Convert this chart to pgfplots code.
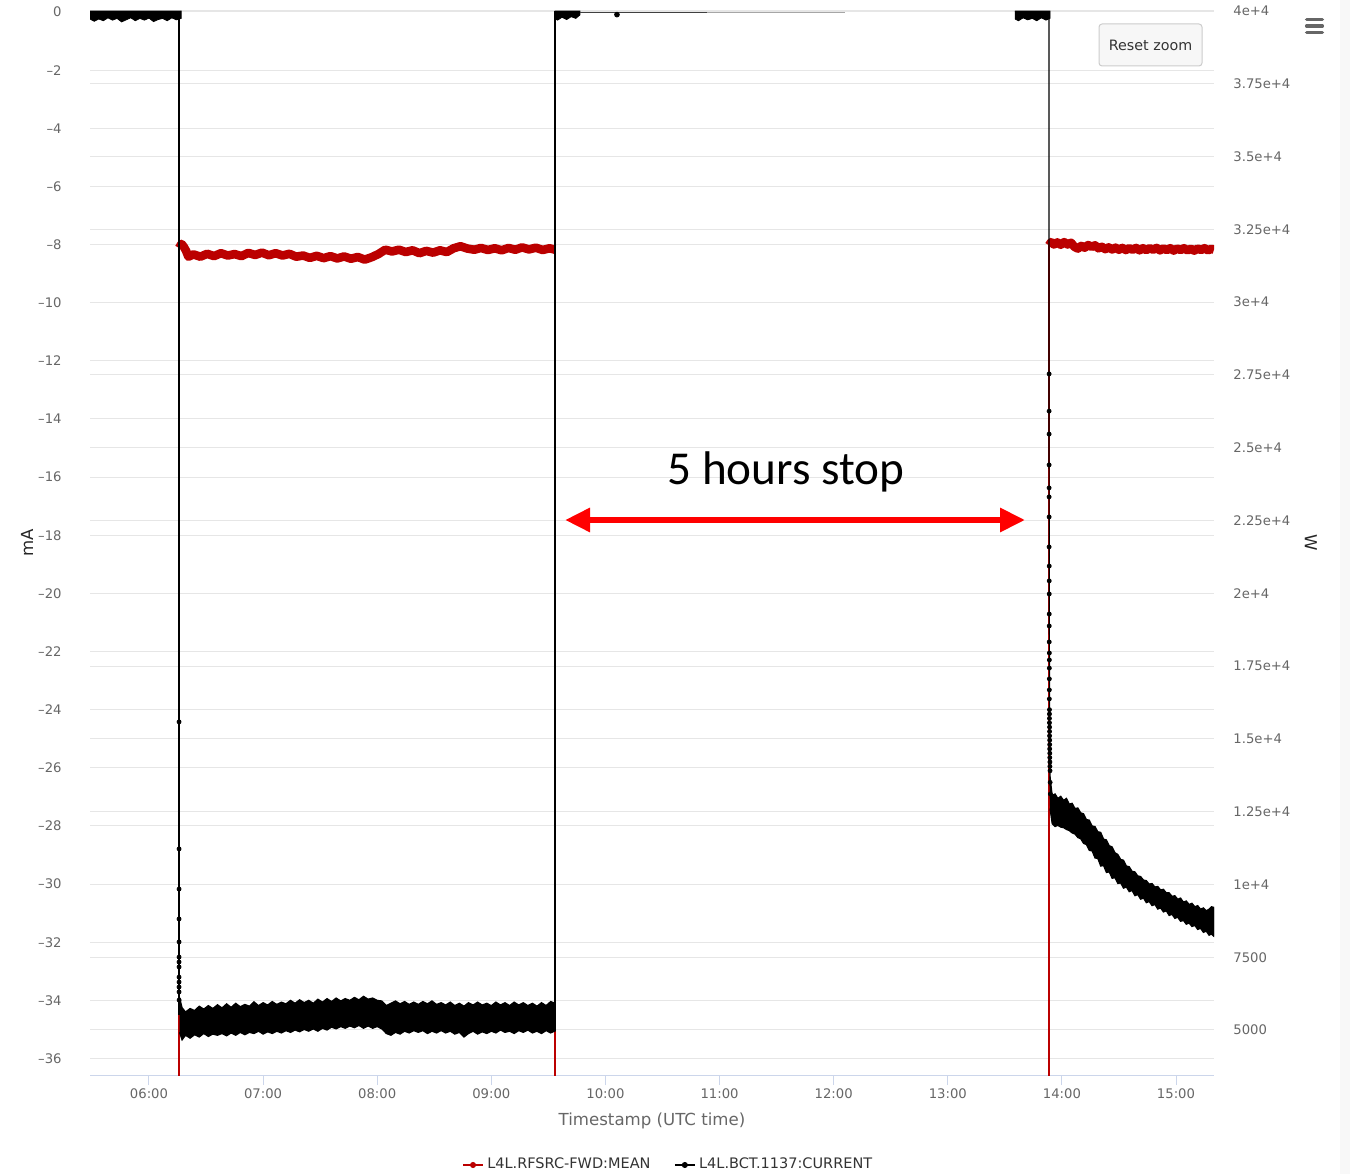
\documentclass[border=0pt]{standalone}
\usepackage{fontspec}
\setmainfont{DejaVu Sans}
\newfontfamily\carlito{Carlito}
\usepackage{pgfplots}
\pgfplotsset{compat=1.18}
\usetikzlibrary{arrows.meta}
\definecolor{gridc}{HTML}{E6E6E6}
\definecolor{axc}{HTML}{CCD6EB}
\definecolor{lab}{HTML}{666666}
\definecolor{txt}{HTML}{333333}
\definecolor{redser}{HTML}{BB0000}
\definecolor{arrowred}{HTML}{FF0000}
\definecolor{btnfill}{HTML}{F7F7F7}
\definecolor{btndraw}{HTML}{CCCCCC}
\definecolor{strip}{HTML}{F8F8F8}
\pgfplotsset{
  base/.style={
    scale only axis, width=562pt, height=532.5pt,
    at={(45pt,49.5pt)}, anchor=south west,
    xmin=5.483, xmax=15.333,
  },
  leftax/.style={ymin=-36.567, ymax=0.0688},
  rightax/.style={ymin=3454, ymax=40034},
}
\begin{document}
\begin{tikzpicture}
\useasboundingbox (0,0) rectangle (675pt,587pt);
\fill[strip] (670pt,0) rectangle (675pt,587pt);

% ---------- axis 1: left mA axis, grid, x axis ----------
\begin{axis}[base, leftax, clip=false,
  axis line style={draw=none},
  ytick={0,-2,-4,-6,-8,-10,-12,-14,-16,-18,-20,-22,-24,-26,-28,-30,-32,-34,-36},
  yticklabels={0,–2,–4,–6,–8,–10,–12,–14,–16,–18,–20,–22,–24,–26,–28,–30,–32,–34,–36},
  xtick={6,7,8,9,10,11,12,13,14,15},
  xticklabels={06:00,07:00,08:00,09:00,10:00,11:00,12:00,13:00,14:00,15:00},
  xtick pos=bottom,
  tick align=outside,
  major tick length=5pt,
  xtick style={draw=axc, line width=0.5pt},
  ytick style={draw=none},
  ymajorgrids, grid style={gridc, line width=0.5pt},
  yticklabel style={anchor=east, inner sep=0pt, xshift=-9pt, font=\fontsize{6.6}{7}\selectfont, text=lab},
  xticklabel style={anchor=base, inner sep=0pt, yshift=-6.5pt, font=\fontsize{6.6}{7}\selectfont, text=lab},
  ylabel={mA},
  every axis y label/.style={at={(axis description cs:-0.05605,0.4995)}, rotate=90, anchor=center, font=\fontsize{8.3}{9}\selectfont, text=black!85},
  xlabel={Timestamp (UTC time)},
  every axis x label/.style={at={(axis description cs:0.5,-0.0432)}, anchor=center, font=\fontsize{8.3}{9}\selectfont, text=lab},
]
\draw[axc, line width=0.5pt] (rel axis cs:0,0) -- (rel axis cs:1,0);
\end{axis}

% ---------- axis 2: right W axis, grid, red series ----------
\begin{axis}[base, rightax,
  axis line style={draw=none},
  xtick=\empty,
  ytick={5000,7500,10000,12500,15000,17500,20000,22500,25000,27500,30000,32500,35000,37500,40000},
  yticklabels={5000,7500,1e+4,1.25e+4,1.5e+4,1.75e+4,2e+4,2.25e+4,2.5e+4,2.75e+4,3e+4,3.25e+4,3.5e+4,3.75e+4,4e+4},
  yticklabel pos=right,
  scaled y ticks=false,
  ytick style={draw=none},
  ymajorgrids, grid style={gridc, line width=0.5pt},
  yticklabel style={anchor=west, inner sep=0pt, xshift=9.5pt, font=\fontsize{6.6}{7}\selectfont, text=lab},
  ylabel={W},
  every axis y label/.style={at={(axis description cs:1.0863,0.4995)}, rotate=-90, anchor=center, font=\fontsize{8.3}{9}\selectfont, text=black!85},
]
% thin series line (RF forward power, W): off levels and switching edges
\addplot[redser, line width=0.65pt, forget plot] coordinates {
(5.483,0) (6.2629,0) (6.2629,31859)};
\addplot[redser, line width=0.65pt, forget plot] coordinates {
(9.558,31800) (9.558,0) (13.887,0) (13.887,31950)};
% noisy "on" band, first run
\addplot[redser, line width=4.3pt, line join=round, forget plot] coordinates {
(6.263,31859) (6.285,32000) (6.305,31900) (6.325,31760) (6.345,31560) (6.39,31640) (6.45,31560) (6.51,31660)
(6.57,31580) (6.63,31680) (6.69,31600) (6.75,31650) (6.81,31580) (6.87,31690) (6.93,31620) (6.99,31700)
(7.05,31610) (7.11,31680) (7.17,31600) (7.23,31660) (7.29,31560) (7.35,31600) (7.41,31520) (7.47,31590)
(7.53,31510) (7.59,31580) (7.65,31500) (7.71,31570) (7.77,31490) (7.83,31550) (7.89,31460) (7.95,31540)
(8.01,31650) (8.07,31800) (8.13,31740) (8.19,31800) (8.25,31720) (8.31,31780) (8.37,31680) (8.43,31760)
(8.49,31700) (8.55,31780) (8.61,31720) (8.67,31850) (8.73,31920) (8.79,31840) (8.85,31800) (8.91,31860)
(8.97,31790) (9.03,31850) (9.09,31780) (9.15,31860) (9.21,31800) (9.27,31880) (9.33,31810) (9.39,31870)
(9.45,31790) (9.51,31850) (9.558,31800)};
% noisy "on" band, second run
\addplot[redser, line width=4.3pt, line join=round, forget plot] coordinates {
(13.887,31950) (13.905,32060) (13.93,31980) (13.96,32050) (13.99,31970) (14.02,32060) (14.05,31980) (14.08,32040)
(14.11,31900) (14.14,31840) (14.17,31930) (14.20,31870) (14.23,31960) (14.26,31900) (14.29,31950) (14.32,31850)
(14.35,31900) (14.38,31820) (14.41,31880) (14.44,31810) (14.47,31870) (14.50,31800) (14.53,31860) (14.56,31790)
(14.59,31850) (14.62,31800) (14.65,31860) (14.68,31780) (14.71,31850) (14.74,31790) (14.77,31850) (14.80,31800)
(14.83,31860) (14.86,31780) (14.89,31840) (14.92,31790) (14.95,31850) (14.98,31770) (15.01,31840) (15.04,31790)
(15.07,31850) (15.10,31780) (15.13,31830) (15.16,31770) (15.19,31840) (15.22,31790) (15.25,31850) (15.28,31780)
(15.31,31830) (15.333,31800)};
\end{axis}

% ---------- axis 3: left mA axis, black series, legend, annotation ----------
\begin{axis}[base, leftax, hide axis,
  legend style={at={(axis description cs:0.5151,-0.0845)}, anchor=center, draw=none, fill=none,
    inner sep=0pt, legend columns=2, font=\fontsize{7.25}{8}\selectfont, text=txt,
    /tikz/every even column/.append style={column sep=10pt},
    nodes={inner sep=1.75pt}},
  legend cell align=left,
  legend image code/.code={\draw[#1, line width=0.8pt] (0pt,0pt) -- (10pt,0pt); \fill[#1] (5pt,0pt) circle (1.3pt);},
]
\addlegendimage{redser}
\addlegendentry{L4L.RFSRC-FWD:MEAN}
\addlegendimage{black}
\addlegendentry{L4L.BCT.1137:CURRENT}

% beam off, before first run
\addplot[fill=black, draw=black, line width=0.4pt, forget plot] coordinates {
(5.483,0.03) (6.282,0.03) (6.282,-0.22) (6.24,-0.27) (6.20,-0.20) (6.16,-0.30) (6.12,-0.22) (6.08,-0.26)
(6.04,-0.33) (6.00,-0.21) (5.96,-0.28) (5.92,-0.22) (5.88,-0.30) (5.84,-0.20) (5.80,-0.27) (5.76,-0.34)
(5.72,-0.22) (5.68,-0.28) (5.64,-0.20) (5.60,-0.30) (5.56,-0.24) (5.52,-0.32) (5.483,-0.24)};
% transitions
\addplot[black, line width=0.6pt, forget plot] coordinates {(6.2629,0.03) (6.2629,-34.5)};
\addplot[black, line width=0.6pt, forget plot] coordinates {(9.558,-34.6) (9.558,0.03)};
\addplot[black, line width=0.6pt, forget plot] coordinates {(13.887,0.03) (13.887,-12.45) (13.889,-20) (13.892,-24) (13.896,-26.5) (13.9,-27.3)};
% points on the first fall
\addplot[black, only marks, mark=*, mark size=1pt, forget plot] coordinates {
(6.2635,-24.42) (6.2635,-28.79) (6.2635,-30.17) (6.2635,-31.20) (6.2635,-31.99) (6.2635,-32.51) (6.2635,-32.68)
(6.2635,-32.85) (6.2635,-33.20) (6.2635,-33.37) (6.2635,-33.54) (6.2635,-33.71) (6.264,-33.99)};
% points on the third fall
\addplot[black, only marks, mark=*, mark size=1pt, forget plot] coordinates {
(13.888,-12.45) (13.888,-13.73) (13.888,-14.52) (13.888,-15.58) (13.888,-16.37) (13.888,-16.68) (13.888,-17.37)
(13.888,-18.40) (13.889,-19.06) (13.889,-19.57) (13.889,-20.02) (13.889,-20.71) (13.889,-21.12) (13.889,-21.67)
(13.89,-22.05) (13.89,-22.29) (13.89,-22.57) (13.89,-22.94) (13.89,-23.32) (13.89,-23.63) (13.891,-24.0)
(13.891,-24.15) (13.891,-24.3) (13.891,-24.45) (13.892,-24.6) (13.892,-24.75) (13.892,-24.9) (13.893,-25.05)
(13.893,-25.2) (13.893,-25.35) (13.894,-25.5) (13.894,-25.65) (13.895,-25.8) (13.895,-25.95) (13.896,-26.1)
(13.897,-26.5) (13.899,-26.9)};
% first run, beam current band
\addplot[fill=black, draw=black, line width=0.6pt, forget plot] coordinates {
(6.268,-33.9) (6.290,-34.25) (6.32,-34.40) (6.36,-34.28) (6.40,-34.35) (6.44,-34.20) (6.48,-34.30) (6.52,-34.18)
(6.56,-34.28) (6.60,-34.15) (6.64,-34.26) (6.68,-34.12) (6.72,-34.24) (6.76,-34.10) (6.80,-34.22) (6.84,-34.14)
(6.88,-34.20) (6.92,-34.05) (6.96,-34.18) (7.00,-34.08) (7.04,-34.16) (7.08,-34.04) (7.12,-34.14) (7.16,-34.06)
(7.20,-34.12) (7.24,-34.00) (7.28,-34.10) (7.32,-33.98) (7.36,-34.08) (7.40,-34.00) (7.44,-34.10) (7.48,-33.96)
(7.52,-34.06) (7.56,-33.94) (7.60,-34.04) (7.64,-33.92) (7.68,-34.02) (7.72,-33.94) (7.76,-34.00) (7.80,-33.90)
(7.84,-33.98) (7.88,-33.86) (7.92,-33.96) (7.96,-33.92) (8.00,-34.00) (8.04,-34.02) (8.08,-34.18) (8.12,-34.10)
(8.16,-34.02) (8.20,-34.12) (8.24,-34.04) (8.28,-34.14) (8.32,-34.06) (8.36,-34.14) (8.40,-34.04) (8.44,-34.12)
(8.48,-34.02) (8.52,-34.14) (8.56,-34.08) (8.60,-34.16) (8.64,-34.06) (8.68,-34.18) (8.72,-34.10) (8.76,-34.20)
(8.80,-34.08) (8.84,-34.16) (8.88,-34.06) (8.92,-34.16) (8.96,-34.10) (9.00,-34.18) (9.04,-34.06) (9.08,-34.16)
(9.12,-34.08) (9.16,-34.18) (9.20,-34.06) (9.24,-34.16) (9.28,-34.08) (9.32,-34.18) (9.36,-34.10) (9.40,-34.20)
(9.44,-34.08) (9.48,-34.18) (9.52,-34.04) (9.56,-34.10)
(9.56,-35.05) (9.52,-35.12) (9.48,-35.04) (9.44,-35.14) (9.40,-35.06) (9.36,-35.12) (9.32,-35.02) (9.28,-35.10)
(9.24,-35.04) (9.20,-35.14) (9.16,-35.06) (9.12,-35.10) (9.08,-35.02) (9.04,-35.12) (9.00,-35.06) (8.96,-35.14)
(8.92,-35.08) (8.88,-35.16) (8.84,-35.06) (8.80,-35.14) (8.76,-35.26) (8.72,-35.10) (8.68,-35.16) (8.64,-35.06)
(8.60,-35.12) (8.56,-35.04) (8.52,-35.12) (8.48,-35.06) (8.44,-35.14) (8.40,-35.04) (8.36,-35.10) (8.32,-35.04)
(8.28,-35.12) (8.24,-35.06) (8.20,-35.16) (8.16,-35.10) (8.12,-35.20) (8.08,-35.14) (8.04,-34.98) (8.00,-34.90)
(7.96,-34.96) (7.92,-34.88) (7.88,-34.96) (7.84,-34.86) (7.80,-34.94) (7.76,-34.88) (7.72,-34.96) (7.68,-34.90)
(7.64,-34.98) (7.60,-34.92) (7.56,-35.02) (7.52,-34.96) (7.48,-35.06) (7.44,-34.98) (7.40,-35.06) (7.36,-35.00)
(7.32,-35.08) (7.28,-35.02) (7.24,-35.10) (7.20,-35.04) (7.16,-35.12) (7.12,-35.06) (7.08,-35.14) (7.04,-35.08)
(7.00,-35.16) (6.96,-35.06) (6.92,-35.14) (6.88,-35.10) (6.84,-35.18) (6.80,-35.10) (6.76,-35.20) (6.72,-35.12)
(6.68,-35.22) (6.64,-35.14) (6.60,-35.20) (6.56,-35.16) (6.52,-35.24) (6.48,-35.14) (6.44,-35.26) (6.40,-35.18)
(6.36,-35.30) (6.32,-35.20) (6.29,-35.36) (6.268,-35.10)};
% beam off, long stop
\addplot[fill=black, draw=black, line width=0.4pt, forget plot] coordinates {
(9.555,0.03) (9.777,0.03) (9.777,-0.10) (9.74,-0.22) (9.70,-0.16) (9.66,-0.26) (9.62,-0.18) (9.58,-0.28) (9.555,-0.22)};
\addplot[black!75, line width=0.5pt, forget plot] coordinates {(9.777,-0.02) (10.89,-0.02)};
\addplot[black!35, line width=0.5pt, forget plot] coordinates {(10.89,-0.02) (12.099,-0.02)};
\addplot[black, only marks, mark=*, mark size=1.2pt, forget plot] coordinates {(10.101,-0.09)};
\addplot[fill=black, draw=black, line width=0.4pt, forget plot] coordinates {
(13.589,0.03) (13.896,0.03) (13.896,-0.22) (13.86,-0.28) (13.82,-0.20) (13.78,-0.30) (13.74,-0.22) (13.70,-0.27)
(13.66,-0.20) (13.62,-0.30) (13.589,-0.24)};
% third run, decaying beam current band
\addplot[fill=black, draw=black, line width=0.6pt, forget plot] coordinates {
(13.896,-26.30) (13.915,-26.95) (13.94,-26.90) (13.965,-27.05) (13.99,-26.98) (14.015,-27.12) (14.04,-27.05)
(14.065,-27.25) (14.09,-27.22) (14.115,-27.40) (14.14,-27.38) (14.165,-27.55) (14.19,-27.58) (14.215,-27.78)
(14.24,-27.80) (14.265,-28.00) (14.29,-28.02) (14.315,-28.20) (14.34,-28.22) (14.365,-28.45) (14.39,-28.48)
(14.415,-28.68) (14.44,-28.72) (14.465,-28.92) (14.49,-28.98) (14.515,-29.15) (14.54,-29.18) (14.565,-29.38)
(14.59,-29.40) (14.615,-29.56) (14.64,-29.58) (14.665,-29.72) (14.69,-29.74) (14.715,-29.86) (14.74,-29.88)
(14.765,-30.00) (14.79,-29.98) (14.815,-30.10) (14.84,-30.08) (14.865,-30.20) (14.89,-30.18) (14.915,-30.30)
(14.94,-30.30) (14.965,-30.42) (14.99,-30.40) (15.015,-30.52) (15.04,-30.48) (15.065,-30.62) (15.09,-30.58)
(15.115,-30.70) (15.14,-30.66) (15.165,-30.78) (15.19,-30.74) (15.215,-30.86) (15.24,-30.82) (15.265,-30.92)
(15.29,-30.86) (15.31,-30.78) (15.333,-30.80)
(15.333,-31.80) (15.31,-31.72) (15.29,-31.76) (15.265,-31.62) (15.24,-31.66) (15.215,-31.52) (15.19,-31.56)
(15.165,-31.42) (15.14,-31.46) (15.115,-31.34) (15.09,-31.38) (15.065,-31.25) (15.04,-31.28) (15.015,-31.14)
(14.99,-31.18) (14.965,-31.04) (14.94,-31.08) (14.915,-30.92) (14.89,-30.96) (14.865,-30.82) (14.84,-30.86)
(14.815,-30.70) (14.79,-30.74) (14.765,-30.60) (14.74,-30.64) (14.715,-30.48) (14.69,-30.52) (14.665,-30.36)
(14.64,-30.40) (14.615,-30.22) (14.59,-30.26) (14.565,-30.10) (14.54,-30.14) (14.515,-29.96) (14.49,-29.98)
(14.465,-29.78) (14.44,-29.80) (14.415,-29.58) (14.39,-29.60) (14.365,-29.36) (14.34,-29.38) (14.315,-29.12)
(14.29,-29.10) (14.265,-28.86) (14.24,-28.84) (14.215,-28.64) (14.19,-28.60) (14.165,-28.44) (14.14,-28.40)
(14.115,-28.28) (14.09,-28.24) (14.065,-28.16) (14.04,-28.12) (14.015,-28.06) (13.99,-28.04) (13.965,-27.98)
(13.94,-28.02) (13.915,-27.92) (13.896,-27.40)};

% annotation
\node[font=\carlito\fontsize{23.6}{28}\selectfont, anchor=base, inner sep=0pt] at (axis cs:11.582,-16.24) {5 hours stop};
\draw[arrowred, line width=3pt, {Triangle[length=12.5pt 0, width=11.5pt 0]}-{Triangle[length=12.5pt 0, width=11.5pt 0]}]
  (axis cs:9.646,-17.475) -- (axis cs:13.677,-17.475);
\end{axis}

% Reset zoom button and menu icon
\draw[btndraw, fill=btnfill, rounded corners=1.5pt, line width=0.5pt] (549.5pt,554pt) rectangle (601pt,575pt);
\node[font=\fontsize{7.15}{8}\selectfont, text=txt, inner sep=0pt] at (575.25pt,564.5pt) {Reset zoom};
\foreach \yy in {577.35,574,570.85} \draw[lab, line width=1.65pt, line cap=round] (653.3pt,\yy pt) -- (661.2pt,\yy pt);
\end{tikzpicture}
\end{document}
